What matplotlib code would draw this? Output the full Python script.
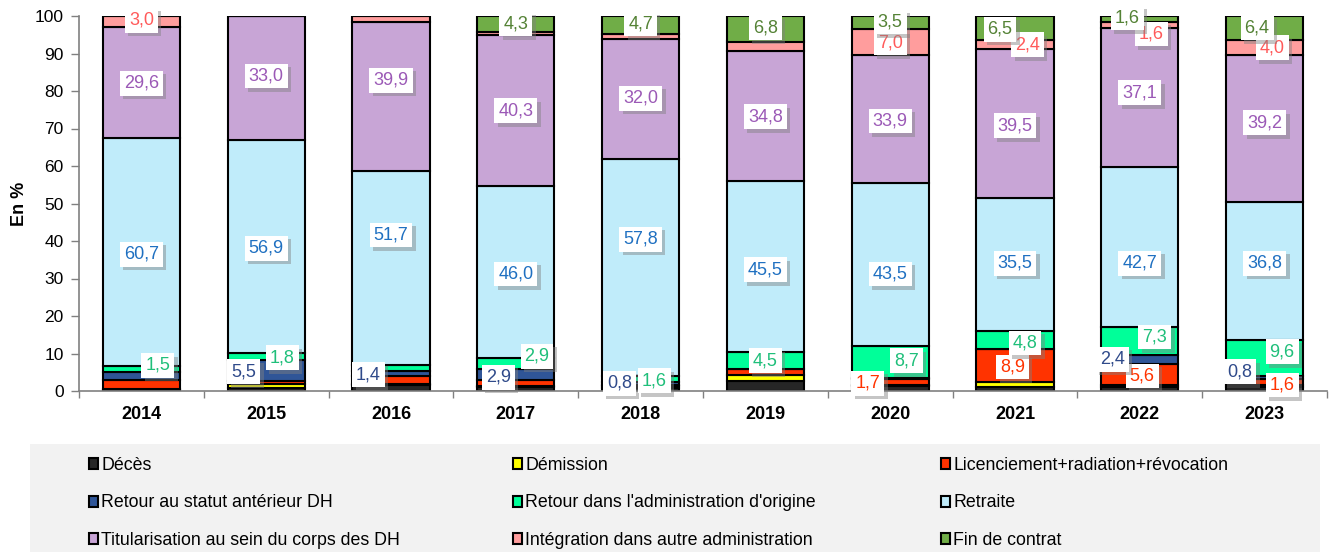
import matplotlib
matplotlib.use("Agg")
import matplotlib.pyplot as plt
import matplotlib.patheffects as pe
from matplotlib.patches import Rectangle, Patch
import numpy as np

plt.rcParams.update({"font.family": ["Liberation Sans", "DejaVu Sans"]})

years = ["2014", "2015", "2016", "2017", "2018", "2019", "2020", "2021", "2022", "2023"]

deces          = [0.4, 0.8, 1.7, 1.0, 0.9, 2.8, 1.3, 1.0, 1.0, 1.0]
demission      = [0.1, 1.0, 0.2, 0.3, 0.4, 1.5, 0.2, 1.4, 0.7, 0.6]
licenciement   = [2.5, 1.0, 2.0, 1.6, 0.4, 1.5, 1.7, 8.9, 5.6, 1.6]
retour_statut  = [2.2, 5.5, 1.4, 2.9, 0.8, 0.2, 0.2, 0.0, 2.4, 0.8]
retour_admin   = [1.5, 1.8, 1.6, 2.9, 1.6, 4.5, 8.7, 4.8, 7.3, 9.6]
retraite       = [60.7, 56.9, 51.7, 46.0, 57.8, 45.5, 43.5, 35.5, 42.7, 36.8]
titularisation = [29.6, 33.0, 39.9, 40.3, 32.0, 34.8, 33.9, 39.5, 37.1, 39.2]
integration    = [3.0, 0.0, 1.5, 0.7, 1.4, 2.4, 7.0, 2.4, 1.6, 4.0]
fin_contrat    = [0.0, 0.0, 0.0, 4.3, 4.7, 6.8, 3.5, 6.5, 1.6, 6.4]

series_names = ["Décès", "Démission", "Licenciement+radiation+révocation",
                "Retour au statut antérieur DH", "Retour dans l'administration d'origine", "Retraite",
                "Titularisation au sein du corps des DH", "Intégration dans autre administration",
                "Fin de contrat"]
series = [deces, demission, licenciement, retour_statut, retour_admin,
          retraite, titularisation, integration, fin_contrat]
colors = ["#262626", "#FFFF00", "#FF3300", "#2F5597", "#00FF99",
          "#C0ECFA", "#C8A5D6", "#FF9D9D", "#70AD47"]
text_colors = ["#262626", "#B8A000", "#FF3300", "#2F4A8A", "#1FBF7A",
               "#1F70C1", "#9B59B6", "#FF5A5A", "#548235"]

# labelled segments: (year index, series index, dx, label y)
labels = [
    (0, 4, 0.13, 6.8), (0, 5, 0, 36.5), (0, 6, 0, 82.1), (0, 7, 0, 98.9),
    (1, 3, -0.18, 5.1), (1, 4, 0.13, 8.9), (1, 5, 0, 38.1), (1, 6, 0, 84.0),
    (2, 3, -0.18, 4.4), (2, 5, 0, 41.6), (2, 6, 0, 82.9),
    (3, 3, -0.14, 3.7), (3, 4, 0.17, 9.3), (3, 5, 0, 31.2), (3, 6, 0, 74.7), (3, 8, 0, 97.9),
    (4, 3, -0.17, 2.1), (4, 4, 0.11, 2.7), (4, 5, 0, 40.5), (4, 6, 0, 78.1), (4, 8, 0, 97.9),
    (5, 4, 0, 8.1), (5, 5, 0, 32.3), (5, 6, 0, 73.1), (5, 8, 0, 96.8),
    (6, 2, -0.18, 2.1), (6, 4, 0.13, 8.1), (6, 5, 0, 31.2), (6, 6, 0, 72.0), (6, 7, 0, 92.8), (6, 8, 0, 98.4),
    (7, 2, -0.02, 6.4), (7, 4, 0.08, 12.8), (7, 5, 0, 34.1), (7, 6, 0, 70.7), (7, 7, 0.10, 92.3), (7, 8, -0.12, 96.5),
    (8, 2, 0.02, 4.0), (8, 3, -0.22, 8.5), (8, 4, 0.12, 14.4), (8, 5, 0, 34.1), (8, 6, 0, 79.5), (8, 7, 0.09, 95.2), (8, 8, -0.10, 99.5),
    (9, 2, 0.14, 1.6), (9, 3, -0.2, 5.1), (9, 4, 0.14, 10.5), (9, 5, 0, 34.1), (9, 6, 0, 71.5), (9, 7, 0.06, 91.5), (9, 8, -0.06, 96.8),
]

fig = plt.figure(figsize=(13.3, 5.52), dpi=100)
ax = fig.add_axes([79 / 1330, 1 - 391 / 552, 1248 / 1330, 375 / 552])

x = np.arange(len(years))
bottom = np.zeros(len(years))
for vals, col in zip(series, colors):
    ax.bar(x, vals, 0.62, bottom=bottom, color=col, edgecolor="black", linewidth=1.5, zorder=2)
    bottom += np.array(vals)

for yi, si, dx, ly in labels:
    val = series[si][yi]
    t = ax.text(x[yi] + dx, ly, f"{val:.1f}".replace(".", ","), ha="center", va="center",
                fontsize=13, color=text_colors[si], zorder=5,
                bbox=dict(boxstyle="square,pad=0.22", facecolor="white", edgecolor="none"))
    t.get_bbox_patch().set_path_effects([
        pe.withSimplePatchShadow(offset=(2.5, -2.5), shadow_rgbFace="#808080", alpha=0.45), pe.Normal()])

ax.set_xlim(-0.5, len(years) - 0.5)
ax.set_ylim(0, 100)
ax.set_yticks(np.arange(0, 101, 10))
ax.tick_params(axis="y", labelsize=12.5, colors="#808080", labelcolor="black", length=6, width=1, pad=5)
ax.set_xticks(x)
ax.set_xticklabels(years, fontsize=13, fontweight="bold")
ax.tick_params(axis="x", length=0, pad=11)
ax.set_xticks(np.arange(-0.5, len(years), 1), minor=True)
ax.tick_params(axis="x", which="minor", length=5, width=1, colors="#808080")
for s in ["top", "right"]:
    ax.spines[s].set_visible(False)
for s in ["left", "bottom"]:
    ax.spines[s].set_color("#808080")
    ax.spines[s].set_linewidth(1.2)
ax.set_ylabel("En %", fontsize=13, fontweight="bold", labelpad=5)

# legend block
fig.patches.append(Rectangle((30 / 1330, 0), 1290 / 1330, 108 / 552, transform=fig.transFigure,
                             facecolor="#F2F2F2", edgecolor="none", zorder=0))
handles = [Patch(facecolor=c, edgecolor="black", linewidth=1.5) for c in colors]
col_x = [89 / 1330, 513 / 1330, 941 / 1330]
for c in range(3):
    idx = [c, c + 3, c + 6]
    fig.legend([handles[i] for i in idx], [series_names[i] for i in idx],
               loc="upper left", bbox_to_anchor=(col_x[c], 1 - 457 / 552), frameon=False,
               fontsize=12.8, handlelength=0.5, handleheight=0.55, handletextpad=0.2,
               labelspacing=1.15, borderaxespad=0, borderpad=0)

fig.savefig("out.png", dpi=100)
